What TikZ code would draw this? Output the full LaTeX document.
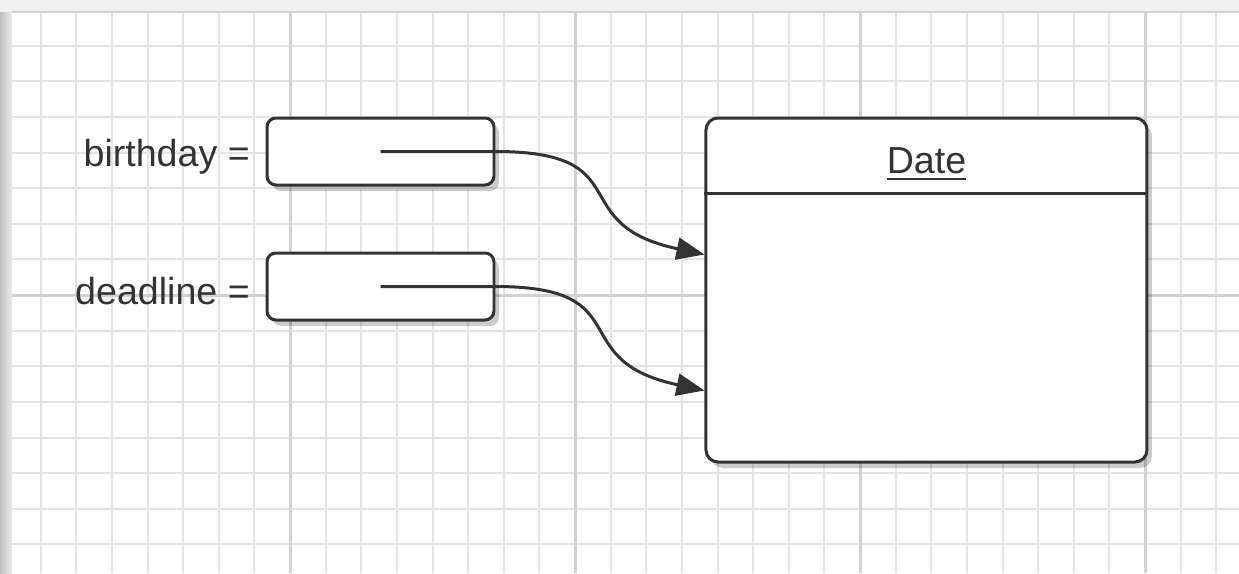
\documentclass[tikz,border=0pt]{standalone}
\usepackage{fontspec}
\setmainfont{Liberation Sans}
\usetikzlibrary{positioning,calc,arrows.meta,shadows}
\definecolor{gridminor}{HTML}{E4E4E4}
\definecolor{gridmajor}{HTML}{D2D2D2}
\definecolor{ink}{HTML}{333333}
\tikzset{
    >={Triangle[length=2.8mm,width=2.2mm]},
    refbox/.style = {draw=ink, line width=0.3mm, fill=white, rounded corners=0.9mm,
        minimum width=22.7mm, minimum height=6.7mm,
        drop shadow={shadow xshift=0.5mm, shadow yshift=-0.6mm, fill=black, opacity=0.2}},
    classbox/.style = {refbox, minimum width=44.1mm, minimum height=34.4mm, rounded corners=1.2mm},
    varname/.style = {inner sep=0pt, text=ink, font=\fontsize{10.7}{12}\selectfont},
    pointer/.style = {->, draw=ink, line width=0.3mm},
}

\begin{document}
\begin{tikzpicture}[x=0.1mm, y=0.1mm]
    \useasboundingbox (0,0) rectangle (1239,573);

    % paper and grid
    \fill[gray!12] (0,0) rectangle (1239,573);
    \shade[left color=gray!50, right color=gray!15] (0,0) rectangle (12,561);
    \fill[white] (12,0) rectangle (1239,561);
    \begin{scope}
        \clip (12,0) rectangle (1239,561);
        \foreach \k in {0,...,34}
            \draw[gridminor, line width=0.2mm] ({5+35.625*\k},0) -- ++(0,573);
        \foreach \k in {-8,...,8}
            \draw[gridminor, line width=0.2mm] (0,{278+35.625*\k}) -- ++(1239,0);
        \foreach \x in {5,290,575,860,1145}
            \draw[gridmajor, line width=0.3mm] (\x,0) -- ++(0,573);
        \foreach \y in {-7,278,563}
            \draw[gridmajor, line width=0.3mm] (0,\y) -- ++(1239,0);
    \end{scope}
    \draw[gray!35, line width=0.2mm] (12,561) -- (1239,561);

    \node (bday) [refbox] at (380.5,421.5) {};
    \node (dline) [refbox, below=6.5mm of bday] {};
    \node (bday name) [varname, left=1.5mm of bday, yshift=-0.5mm] {birthday =};
    \node (dline name) [varname, left=1.5mm of dline, yshift=-0.5mm] {deadline =};

    \node (date) [classbox, below right=0mm and 20.9mm of bday.north east] {};
    \draw[ink, line width=0.3mm] ([yshift=-7.7mm]date.north west) -- ([yshift=-7.7mm]date.north east);
    \node (date title) [varname] at ([yshift=-4.8mm]date.north) {\underline{Date}};

    \coordinate (bday in) at ([yshift=-13.8mm]date.north west);
    \coordinate (dline in) at ([yshift=-27.4mm]date.north west);

    \draw[pointer] (bday.center) -- (bday.east) to[out=0, in=168, looseness=1.6] (bday in);
    \draw[pointer] (dline.center) -- (dline.east) to[out=0, in=168, looseness=1.6] (dline in);
\end{tikzpicture}
\end{document}
